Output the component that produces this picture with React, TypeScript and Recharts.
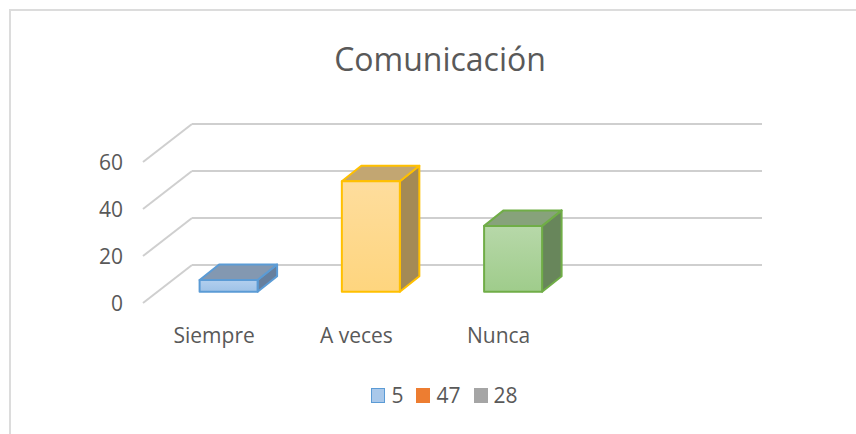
import { BarChart, Bar, XAxis, YAxis, CartesianGrid, Legend } from "recharts";

const categories = ["Siempre", "A veces", "Nunca", ""];
const values = [5, 47, 28, null];
const seriesNames = ["5", "47", "28"];
const yTicks = [0, 20, 40, 60];

const data = categories.map((name, i) => ({ name, value: values[i] }));

const W = 856;
const H = 434;
const margin = { top: 150.7, right: 129.4, bottom: 122.3, left: 137.6 };
const plotRight = W - margin.right;

// depth offsets of the pseudo 3D floor/wall
const FRONT_DX = -14.6;
const FRONT_DY = 11.3;
const BACK_DX = 34.4;
const BACK_DY = -26.7;
const BOX_DX = 19.5;
const BOX_DY = 15.5;

const font = "'Open Sans', sans-serif";
const textColor = "#595959";
const gridColor = "#cfcfcf";

const boxColors = [
  { edge: "#5b9bd5", top: "#8398b1", side: "#667f9e", g1: "#b2cfee", g2: "#9ec2e7" },
  { edge: "#ffc000", top: "#c2a672", side: "#a48a55", g1: "#fedd9d", g2: "#fed57e" },
  { edge: "#70ad47", top: "#87a27b", side: "#68865b", g1: "#b7d8a9", g2: "#9fcc8b" },
];

const legendColors = [
  { fill: "#a9c8ea", stroke: "#5b9bd5" },
  { fill: "#ed7d31", stroke: "#ed7d31" },
  { fill: "#a5a5a5", stroke: "#a5a5a5" },
];

const Box3D = (props: any) => {
  const { x, y, width, height, index } = props;
  if (props.value == null || !height || height <= 0) return null;
  const c = boxColors[index % boxColors.length];
  const top = `${x},${y} ${x + BOX_DX},${y - BOX_DY} ${x + width + BOX_DX},${y - BOX_DY} ${x + width},${y}`;
  const side = `${x + width},${y} ${x + width + BOX_DX},${y - BOX_DY} ${x + width + BOX_DX},${y + height - BOX_DY} ${x + width},${y + height}`;
  return (
    <g strokeLinejoin="round">
      <polygon points={side} fill={c.side} stroke={c.edge} strokeWidth={2} />
      <polygon points={top} fill={c.top} stroke={c.edge} strokeWidth={2} />
      <rect x={x} y={y} width={width} height={height} fill={`url(#front${index})`} stroke={c.edge} strokeWidth={2} />
    </g>
  );
};

const gridLine = (props: any) => {
  const { y1, x1, index } = props;
  const fx = x1 + FRONT_DX;
  const bx = x1 + BACK_DX;
  return (
    <g key={`g-${index}`}>
      <line x1={fx} y1={y1 + FRONT_DY} x2={bx} y2={y1 + BACK_DY} stroke={gridColor} strokeWidth={2} />
      <line x1={bx} y1={y1 + BACK_DY} x2={plotRight + BACK_DX + 1} y2={y1 + BACK_DY} stroke={gridColor} strokeWidth={2} />
    </g>
  );
};

const YTick = (props: any) => {
  const { y, payload } = props;
  return (
    <text x={123} y={y + FRONT_DY} textAnchor="end" dominantBaseline="central" fill={textColor} fontSize={21} fontFamily={font}>
      {payload.value}
    </text>
  );
};

const XTick = (props: any) => {
  const { x, payload } = props;
  return (
    <text x={x + FRONT_DX} y={335} textAnchor="middle" dominantBaseline="central" fill={textColor} fontSize={21} fontFamily={font}>
      {payload.value}
    </text>
  );
};

const renderLegend = () => (
  <div style={{ display: "flex", justifyContent: "center", alignItems: "center", fontFamily: font, fontSize: 21, color: textColor, paddingLeft: 46 }}>
    {seriesNames.map((n, i) => (
      <div key={n} style={{ display: "flex", alignItems: "center", marginRight: 13 }}>
        <span
          style={{
            display: "inline-block",
            width: 12,
            height: 13,
            background: legendColors[i].fill,
            border: `1px solid ${legendColors[i].stroke}`,
            marginRight: 6,
          }}
        />
        <span>{n}</span>
      </div>
    ))}
  </div>
);

export default function App() {
  return (
    <div style={{ position: "absolute", left: 0, top: 0, width: W, height: H, overflow: "hidden", background: "#fff" }}>
      <div
        style={{
          position: "absolute",
          left: 9,
          top: 9,
          width: W + 20,
          height: H + 20,
          border: "2px solid #dcdcdc",
          boxSizing: "border-box",
        }}
      />
      <div
        style={{
          position: "absolute",
          left: 0,
          width: W,
          top: 37,
          textAlign: "center",
          fontFamily: font,
          fontSize: 32,
          color: textColor,
          paddingLeft: 24,
          boxSizing: "border-box",
        }}
      >
        Comunicación
      </div>
      <div style={{ position: "absolute", left: 0, top: 0 }}>
        <BarChart width={W} height={H} data={data} margin={margin} barSize={58}>
          <defs>
            {boxColors.map((c, i) => (
              <linearGradient key={i} id={`front${i}`} x1="0" y1="0" x2="0" y2="1">
                <stop offset="0%" stopColor={c.g1} />
                <stop offset="100%" stopColor={c.g2} />
              </linearGradient>
            ))}
          </defs>
          <CartesianGrid vertical={false} horizontal={gridLine} />
          <YAxis
            width={20}
            domain={[0, 60]}
            ticks={yTicks}
            axisLine={false}
            tickLine={false}
            tick={YTick}
            interval={0}
          />
          <XAxis
            dataKey="name"
            height={20}
            axisLine={false}
            tickLine={false}
            tick={XTick}
            interval={0}
          />
          <Bar dataKey="value" isAnimationActive={false} shape={Box3D} />
          <Legend
            layout="horizontal"
            verticalAlign="middle"
            align="center"
            content={renderLegend}
            wrapperStyle={{ top: 381, left: 0, width: W }}
          />
        </BarChart>
      </div>
    </div>
  );
}
